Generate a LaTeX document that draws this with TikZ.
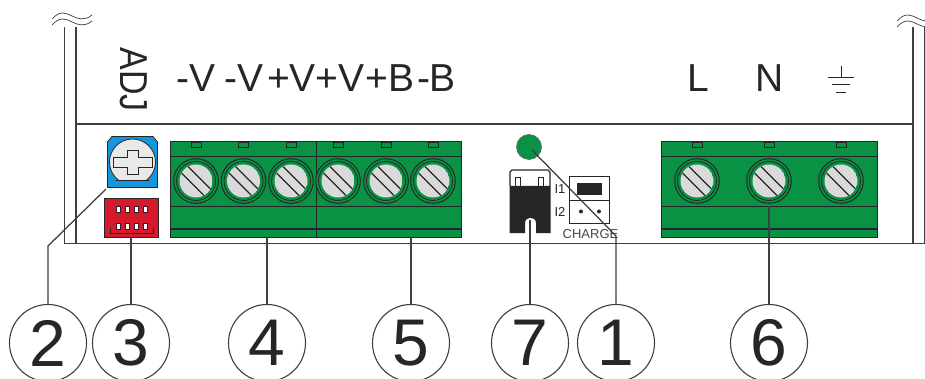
\documentclass[tikz,border=0pt]{standalone}
\usepackage{fontspec}
\setmainfont{Liberation Sans}
\definecolor{tgreen}{RGB}{10,146,68}
\definecolor{tdark}{RGB}{38,38,38}
\definecolor{tblue}{RGB}{20,150,220}
\definecolor{tred}{RGB}{215,25,45}
\definecolor{tgray}{RGB}{218,218,218}
\definecolor{tline}{RGB}{62,62,62}
\tikzset{
 x=1pt,y=-1pt,
 frameline/.style={draw=tline,line width=1.3pt},
 leader/.style={draw=tline,line width=1.25pt},
 callout/.style={circle,draw=tline,line width=1.1pt,fill=white,minimum size=77pt,inner sep=0pt,font=\fontsize{66}{66}\selectfont,text=tdark},
 toplabel/.style={font=\fontsize{39}{39}\selectfont,text=tdark,inner sep=0pt,anchor=base},
 smalllabel/.style={font=\fontsize{13}{13}\selectfont,text=tdark,inner sep=0pt,anchor=base},
 block/.style={draw=tdark,line width=1pt,fill=tgreen},
 blockline/.style={draw=tdark,line width=0.9pt}
}
\newcommand{\myscrew}[2]{%
 \fill[tgreen,draw=tdark,line width=1pt] (#1,#2) circle (22.3);
 \draw[tdark,line width=0.8pt] (#1,#2) circle (19.5);
 \begin{scope}
 \clip (#1,#2) circle (16.5);
 \fill[tgray] (#1,#2) circle (16.5);
 \draw[tdark,line width=1.3pt] (#1-16,#2-9.5) -- (#1+9.5,#2+16);
 \draw[tdark,line width=1.3pt] (#1-9.5,#2-16) -- (#1+16,#2+9.5);
 \end{scope}
 \draw[tdark,line width=0.7pt] (#1-5,142) rectangle (#1+5,147.5);
}
\newcommand{\mywave}[3]{%
 \draw[tline,line width=0.7pt] (#1,#2) .. controls (#1+8,#2-9) and (#1+14,#2-6) .. (#1+20,#2-3) .. controls (#1+26,#2) and (#1+33,#2+2) .. (#1+#3,#2-4);
 \draw[tline,line width=0.7pt] (#1,#2+6) .. controls (#1+8,#2-3) and (#1+14,#2) .. (#1+20,#2+3) .. controls (#1+26,#2+6) and (#1+33,#2+8) .. (#1+#3,#2+2);
}
\begin{document}
\begin{tikzpicture}
\useasboundingbox (0,0) rectangle (925,379);
\fill[white] (0,0) rectangle (925,379);
% frame
\draw[frameline] (64.5,27) -- (64.5,243.5) -- (925,243.5);
\draw[draw=tline,line width=2.2pt] (76,27) -- (76,124);
\draw[frameline] (76,124) -- (912.5,124);
\draw[frameline] (76,124) -- (76,243.5);
\draw[draw=tline,line width=2.2pt] (913,27) -- (913,124);
\draw[frameline] (913,124) -- (913,243.5);
\draw[frameline] (924.4,27) -- (924.4,243.5);
\mywave{52}{19}{40}
\mywave{897}{21}{30}
% trimmer
\fill[tblue,draw=tdark,line width=0.8pt] (112,136.5) -- (153,136.5) -- (157.5,142) -- (157.5,187.5) -- (107.5,187.5) -- (107.5,142) -- cycle;
\begin{scope}
\clip (100,130) rectangle (165,180);
\fill[tgray!60!white,draw=tdark,line width=0.8pt] (132.5,162) circle (23);
\end{scope}
\draw[tdark,line width=0.8pt] (116,180) -- (149,180);
\draw[tdark,line width=0.9pt,fill=tgray!60!white] (127,150) -- (138,150) -- (138,157) -- (152,157) -- (152,167) -- (138,167) -- (138,174.5) -- (127,174.5) -- (127,167) -- (113,167) -- (113,157) -- (127,157) -- cycle;
% DIP
\fill[tred,draw=tdark,line width=0.8pt] (104.5,198.5) rectangle (158,237);
\draw[tdark,line width=0.5pt] (110,228) -- (110,233) -- (153,233) -- (153,228);
\foreach \yy in {209,226.5}{\foreach \xx in {118,127,136,145}{\fill[white,draw=tdark,line width=0.5pt] (\xx-2,\yy-3) rectangle (\xx+2,\yy+3);}}
% blocks
\path[block] (170,141.5) rectangle (316,237);
\path[block] (316,141.5) rectangle (461,237);
\path[block] (661.5,141.5) rectangle (877,237);
\foreach \x/\xb in {170/461,661.5/877}{
 \draw[blockline] (\x,156.5) -- (\xb,156.5);
 \draw[blockline] (\x,206) -- (\xb,206);
 \draw[blockline,line width=1.2pt] (\x,229) -- (\xb,229);
}
\foreach \xs in {196,243.5,291,338,386,433,697,769,841}{\myscrew{\xs}{181}}
% LED
\fill[tgreen,draw=tdark!70,line width=0.6pt] (529,147) circle (12.5);
% jumper
\draw[tdark,line width=1.1pt,fill=white] (510,186) -- (510,172) -- (512,170) -- (548,170) -- (550,172) -- (550,186);
\fill[tdark] (509.5,186) -- (550.5,186) -- (550.5,233) -- (536,233) -- (536,223) .. controls (536,216) and (525,216) .. (525,223) -- (525,233) -- (509.5,233) -- cycle;
\draw[tdark,line width=0.9pt] (515,186) -- (515,177) -- (520,177) -- (520,186);
\draw[tdark,line width=0.9pt] (538,186) -- (538,177) -- (543,177) -- (543,186);
% switch
\draw[tdark,line width=1pt] (569.5,177) rectangle (609.5,224);
\draw[tdark,line width=1pt] (569.5,201) -- (609.5,201);
\fill[tdark] (577,183) rectangle (602,195.5);
\fill[tdark] (581,211.5) circle (2);
\fill[tdark] (599,211.5) circle (2);
\node[smalllabel] (ione) at (560,194) {I1};
\node[smalllabel] (itwo) at (560,217) {I2};
\node[font=\fontsize{13}{13}\selectfont,text=tdark!85,inner sep=0pt,anchor=base] (chg) at (590.5,238) {CHARGE};
% top labels
\node[toplabel] (l1) at (196,92) {-V};
\node[toplabel] (l2) at (244,92) {-V};
\node[toplabel] (l3) at (291.5,92) {+V};
\node[toplabel] (l4) at (340,92) {+V};
\node[toplabel] (l5) at (390,92) {+B};
\node[toplabel] (l6) at (436.5,92) {-B};
\node[toplabel,rotate=-90,xscale=0.87,anchor=center] (adj) at (134,79.5) {ADJ};
\node[toplabel] (lL) at (698,92) {L};
\node[toplabel] (lN) at (770,92) {N};
% ground
\draw[tdark,line width=0.8pt] (841,66) -- (841,77);
\draw[tdark,line width=0.9pt] (828,77) -- (854,77);
\draw[tdark,line width=0.9pt] (832,84) -- (850,84);
\draw[tdark,line width=0.9pt] (836,92) -- (846,92);
% callouts
\node[callout] (c2) at (48,343) {2};
\node[callout] (c3) at (131,343) {3};
\node[callout] (c4) at (267,343) {4};
\node[callout] (c5) at (411,343) {5};
\node[callout] (c7) at (530,343) {7};
\node[callout] (c1) at (616,343) {1};
\node[callout] (c6) at (769,343) {6};
\coordinate (t2a) at (106,189);
\coordinate (t2b) at (48,246);
\coordinate (t3) at (131,237);
\coordinate (t4) at (267,237);
\coordinate (t5) at (411,237);
\coordinate (t7) at (530,220);
\coordinate (t1a) at (532,150);
\coordinate (t1b) at (616,236);
\coordinate (t6) at (769,206);
\draw[leader] (c2.north) -- (t2b) -- (t2a);
\draw[leader] (c3.north) -- (t3);
\draw[leader] (c4.north) -- (t4);
\draw[leader] (c5.north) -- (t5);
\draw[leader] (c7.north) -- (t7);
\draw[leader] (c1.north) -- (t1b) -- (t1a);
\draw[leader] (c6.north) -- (t6);
\end{tikzpicture}
\end{document}
